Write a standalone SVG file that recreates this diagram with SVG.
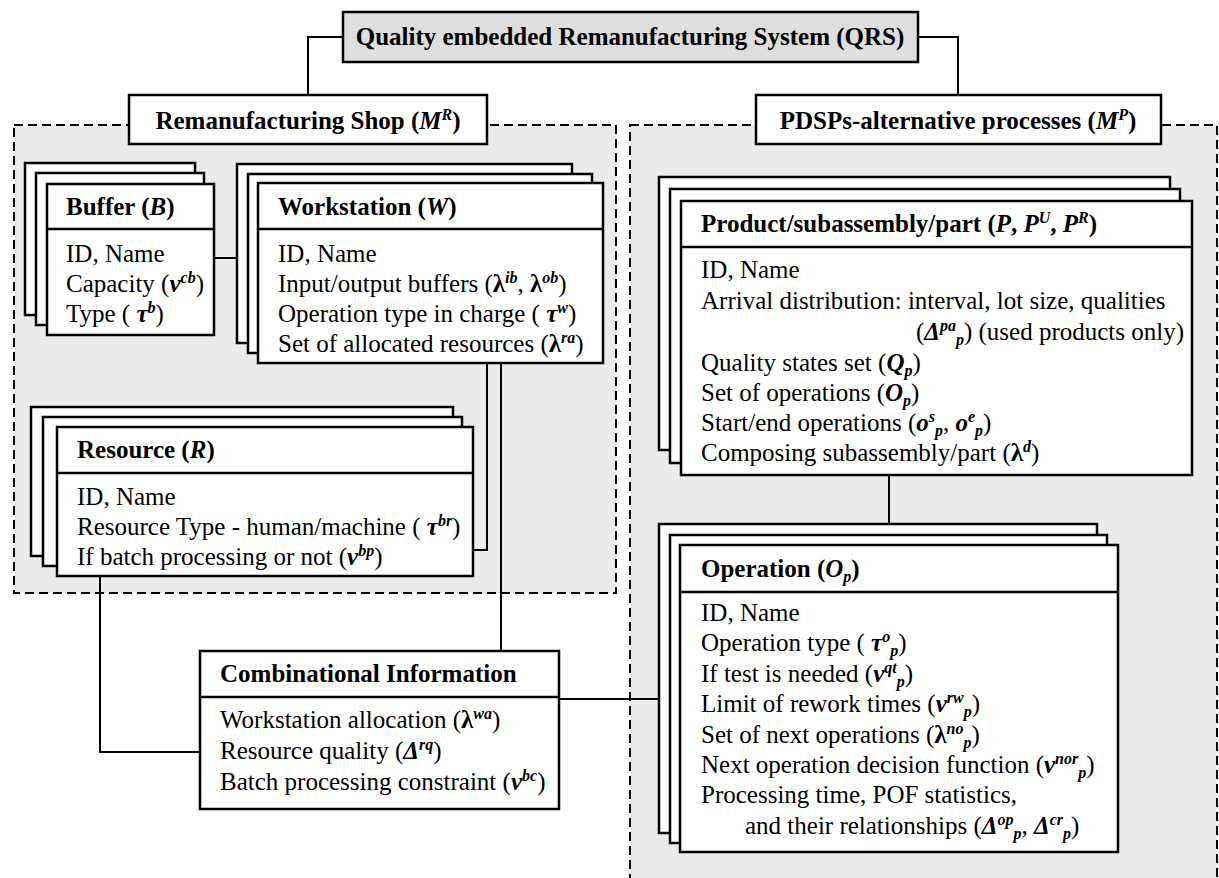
<svg xmlns="http://www.w3.org/2000/svg" width="1219" height="878" viewBox="0 0 1219 878">
<style>
text { font-family: "Liberation Serif", "Times New Roman", serif; font-size: 25px; fill: #000; }
.b { font-weight: bold; }
.bi { font-weight: bold; font-style: italic; }
.s { font-size: 16px; }
.box { fill: #fff; stroke: #000; stroke-width: 2.5; }
.title { fill: #dedede; stroke: #000; stroke-width: 2.5; }
.panel { fill: #ebebeb; stroke: #000; stroke-width: 2; stroke-dasharray: 9 5; }
.conn { fill: none; stroke: #000; stroke-width: 2; }
.div { stroke: #000; stroke-width: 2.5; }
</style>
<rect width="1219" height="878" fill="#fff"/>
<g id="panels">
<rect class="panel" x="14" y="125" width="602" height="468"/>
<rect class="panel" x="630" y="125" width="587" height="800"/>
</g>
<g id="connectors">
<polyline class="conn" points="343,37 308,37 308,95"/>
<polyline class="conn" points="918,37 958,37 958,95"/>
<polyline class="conn" points="214,258 237,258"/>
<polyline class="conn" points="487,363 487,550 473,550"/>
<polyline class="conn" points="501,363 501,651"/>
<polyline class="conn" points="100,576 100,752 200,752"/>
<polyline class="conn" points="559,699 659,699"/>
<polyline class="conn" points="889,475 889,524"/>
</g>
<g id="qrs">
<rect class="title" x="343" y="12" width="575" height="50"/>
<text class="b" x="630" y="45" text-anchor="middle">Quality embedded Remanufacturing System (QRS)</text>
</g>
<g id="remanufacturing-shop">
<rect class="box" x="129" y="95" width="358" height="49"/>
<text class="b" x="308" y="129" text-anchor="middle">Remanufacturing Shop (<tspan class="bi">M</tspan><tspan class="bi s" dy="-9">R</tspan><tspan dy="9">)</tspan></text>
</g>
<g id="pdsps">
<rect class="box" x="756" y="95" width="405" height="49"/>
<text class="b" x="958" y="129" text-anchor="middle">PDSPs-alternative processes (<tspan class="bi">M</tspan><tspan class="bi s" dy="-9">P</tspan><tspan dy="9">)</tspan></text>
</g>
<g id="buffer">
<rect class="box" x="25" y="163" width="170" height="152"/>
<rect class="box" x="36" y="173" width="168" height="152"/>
<rect class="box" x="47" y="184" width="167" height="151"/>
<line class="div" x1="47" y1="229" x2="214" y2="229"/>
<text class="b" x="66" y="215">Buffer (<tspan class="bi">B</tspan>)</text>
<text x="66" y="262">ID, Name</text>
<text x="66" y="292">Capacity (<tspan class="bi">ν</tspan><tspan class="bi s" dy="-9">cb</tspan><tspan dy="9">)</tspan></text>
<text x="66" y="322">Type ( <tspan class="bi">τ</tspan><tspan class="bi s" dy="-9">b</tspan><tspan dy="9">)</tspan></text>
</g>
<g id="workstation">
<rect class="box" x="237" y="164" width="335" height="179"/>
<rect class="box" x="248" y="174" width="344" height="179"/>
<rect class="box" x="258" y="183" width="345" height="180"/>
<line class="div" x1="258" y1="229" x2="603" y2="229"/>
<text class="b" x="278" y="215">Workstation (<tspan class="bi">W</tspan>)</text>
<text x="278" y="262">ID, Name</text>
<text x="278" y="292">Input/output buffers (<tspan class="b">λ</tspan><tspan class="bi s" dy="-9">ib</tspan><tspan dy="9">, </tspan><tspan class="b">λ</tspan><tspan class="bi s" dy="-9">ob</tspan><tspan dy="9">)</tspan></text>
<text x="278" y="322">Operation type in charge ( <tspan class="bi">τ</tspan><tspan class="bi s" dy="-9">w</tspan><tspan dy="9">)</tspan></text>
<text x="278" y="352">Set of allocated resources (<tspan class="b">λ</tspan><tspan class="bi s" dy="-9">ra</tspan><tspan dy="9">)</tspan></text>
</g>
<g id="resource">
<rect class="box" x="31" y="407" width="422" height="149"/>
<rect class="box" x="43" y="417" width="419" height="149"/>
<rect class="box" x="57" y="427" width="416" height="149"/>
<line class="div" x1="57" y1="473" x2="473" y2="473"/>
<text class="b" x="77" y="458">Resource (<tspan class="bi">R</tspan>)</text>
<text x="77" y="505">ID, Name</text>
<text x="77" y="535">Resource Type - human/machine ( <tspan class="bi">τ</tspan><tspan class="bi s" dy="-9">br</tspan><tspan dy="9">)</tspan></text>
<text x="77" y="565">If batch processing or not (<tspan class="bi">ν</tspan><tspan class="bi s" dy="-9">bp</tspan><tspan dy="9">)</tspan></text>
</g>
<g id="combinational">
<rect class="box" x="200" y="651" width="359" height="158"/>
<line class="div" x1="200" y1="697" x2="559" y2="697"/>
<text class="b" x="220" y="682">Combinational Information</text>
<text x="220" y="728">Workstation allocation (<tspan class="b">λ</tspan><tspan class="bi s" dy="-9">wa</tspan><tspan dy="9">)</tspan></text>
<text x="220" y="759">Resource quality (<tspan class="bi">Δ</tspan><tspan class="bi s" dy="-9">rq</tspan><tspan dy="9">)</tspan></text>
<text x="220" y="790">Batch processing constraint (<tspan class="bi">ν</tspan><tspan class="bi s" dy="-9">bc</tspan><tspan dy="9">)</tspan></text>
</g>
<g id="product">
<rect class="box" x="659" y="177" width="511" height="273"/>
<rect class="box" x="670" y="189" width="510" height="274"/>
<rect class="box" x="681" y="201" width="511" height="274"/>
<line class="div" x1="681" y1="247" x2="1192" y2="247"/>
<text class="b" x="701" y="232">Product/subassembly/part (<tspan class="bi">P</tspan>, <tspan class="bi">P</tspan><tspan class="bi s" dy="-9">U</tspan><tspan dy="9">, </tspan><tspan class="bi">P</tspan><tspan class="bi s" dy="-9">R</tspan><tspan dy="9">)</tspan></text>
<text x="701" y="278">ID, Name</text>
<text x="701" y="309">Arrival distribution: interval, lot size, qualities</text>
<text x="1184" y="340" text-anchor="end">(<tspan class="bi">Δ</tspan><tspan class="bi s" dy="-9">pa</tspan><tspan class="bi s" dy="14">p</tspan><tspan dy="-5">) (used products only)</tspan></text>
<text x="701" y="371">Quality states set (<tspan class="bi">Q</tspan><tspan class="bi s" dy="5">p</tspan><tspan dy="-5">)</tspan></text>
<text x="701" y="401">Set of operations (<tspan class="bi">O</tspan><tspan class="bi s" dy="5">p</tspan><tspan dy="-5">)</tspan></text>
<text x="701" y="431">Start/end operations (<tspan class="bi">o</tspan><tspan class="bi s" dy="-9">s</tspan><tspan class="bi s" dy="14">p</tspan><tspan dy="-5">, </tspan><tspan class="bi">o</tspan><tspan class="bi s" dy="-9">e</tspan><tspan class="bi s" dy="14">p</tspan><tspan dy="-5">)</tspan></text>
<text x="701" y="461">Composing subassembly/part (<tspan class="b">λ</tspan><tspan class="bi s" dy="-9">d</tspan><tspan dy="9">)</tspan></text>
</g>
<g id="operation">
<rect class="box" x="659" y="524" width="438" height="309"/>
<rect class="box" x="670" y="535" width="437" height="308"/>
<rect class="box" x="680" y="545" width="438" height="307"/>
<line class="div" x1="680" y1="592" x2="1118" y2="592"/>
<text class="b" x="701" y="577">Operation (<tspan class="bi">O</tspan><tspan class="bi s" dy="5">p</tspan><tspan dy="-5">)</tspan></text>
<text x="701" y="621">ID, Name</text>
<text x="701" y="651">Operation type ( <tspan class="bi">τ</tspan><tspan class="bi s" dy="-9">o</tspan><tspan class="bi s" dy="14">p</tspan><tspan dy="-5">)</tspan></text>
<text x="701" y="682">If test is needed (<tspan class="bi">ν</tspan><tspan class="bi s" dy="-9">qt</tspan><tspan class="bi s" dy="14">p</tspan><tspan dy="-5">)</tspan></text>
<text x="701" y="712">Limit of rework times (<tspan class="bi">ν</tspan><tspan class="bi s" dy="-9">rw</tspan><tspan class="bi s" dy="14">p</tspan><tspan dy="-5">)</tspan></text>
<text x="701" y="743">Set of next operations (<tspan class="b">λ</tspan><tspan class="bi s" dy="-9">no</tspan><tspan class="bi s" dy="14">p</tspan><tspan dy="-5">)</tspan></text>
<text x="701" y="773">Next operation decision function (<tspan class="bi">ν</tspan><tspan class="bi s" dy="-9">nor</tspan><tspan class="bi s" dy="14">p</tspan><tspan dy="-5">)</tspan></text>
<text x="701" y="803">Processing time, POF statistics,</text>
<text x="745" y="834">and their relationships (<tspan class="bi">Δ</tspan><tspan class="bi s" dy="-9">op</tspan><tspan class="bi s" dy="14">p</tspan><tspan dy="-5">, </tspan><tspan class="bi">Δ</tspan><tspan class="bi s" dy="-9">cr</tspan><tspan class="bi s" dy="14">p</tspan><tspan dy="-5">)</tspan></text>
</g>
</svg>
